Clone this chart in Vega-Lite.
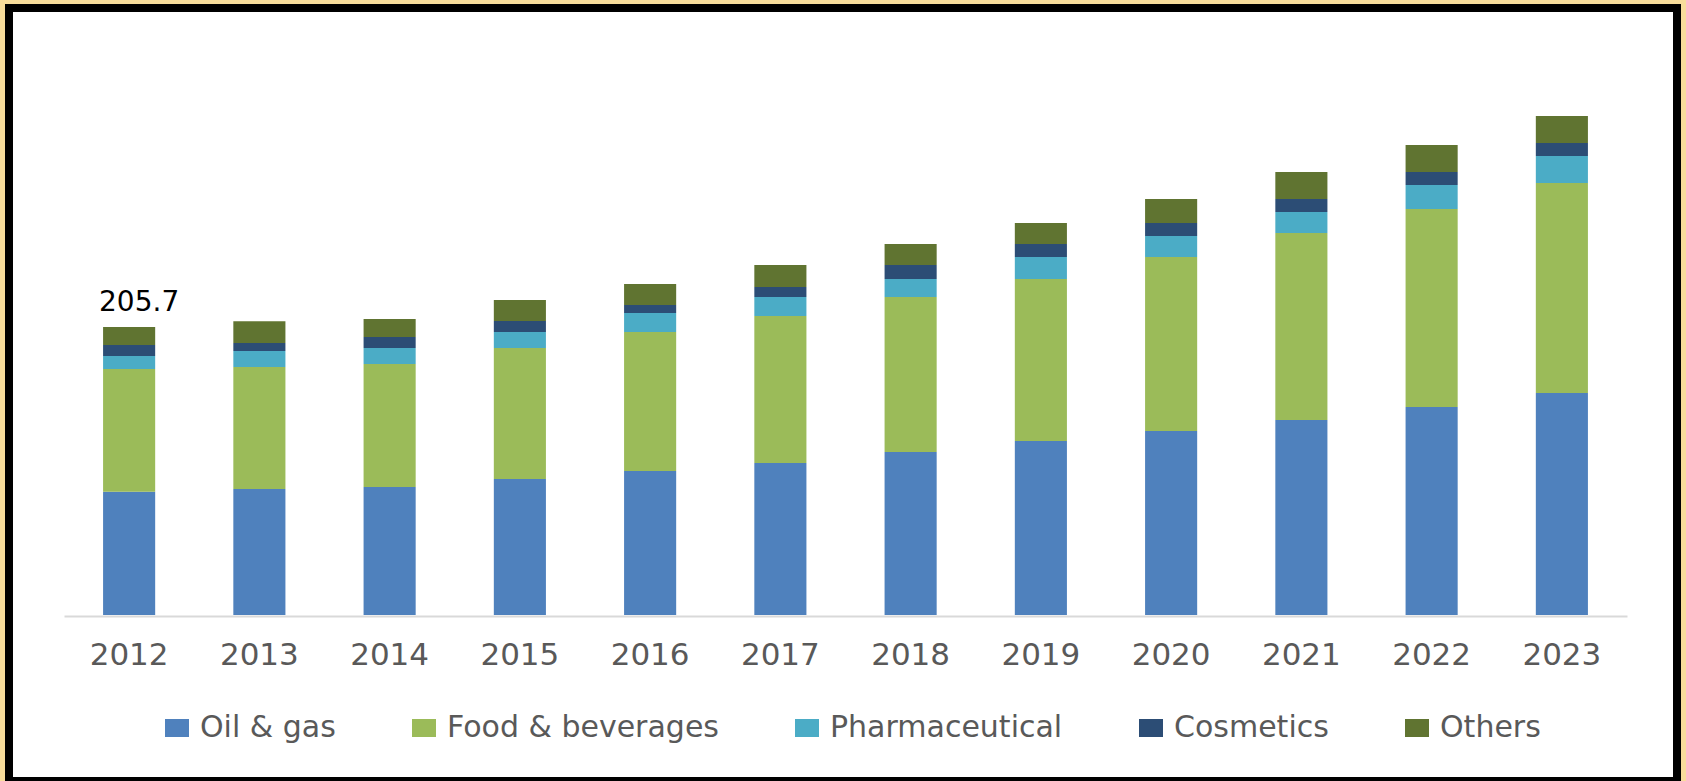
{
  "$schema": "https://vega.github.io/schema/vega-lite/v6.json",
  "width": 1668,
  "height": 773,
  "autosize": {"type": "none"},
  "padding": {"left": 9, "top": 8, "right": 9, "bottom": 0},
  "background": "#f8dd9b",
  "config": {
    "view": {"fill": "white", "stroke": "black", "strokeWidth": 8},
    "font": "DejaVu Sans"
  },
  "layer": [
    {
      "data": {
        "values": [
          {"year": "2012", "segment": "Oil & gas", "value": 88.1},
          {"year": "2012", "segment": "Food & beverages", "value": 87.6},
          {"year": "2012", "segment": "Pharmaceutical", "value": 9.3},
          {"year": "2012", "segment": "Cosmetics", "value": 7.9},
          {"year": "2012", "segment": "Others", "value": 12.8},
          {"year": "2013", "segment": "Oil & gas", "value": 90.0},
          {"year": "2013", "segment": "Food & beverages", "value": 87.1},
          {"year": "2013", "segment": "Pharmaceutical", "value": 11.4},
          {"year": "2013", "segment": "Cosmetics", "value": 5.7},
          {"year": "2013", "segment": "Others", "value": 15.7},
          {"year": "2014", "segment": "Oil & gas", "value": 91.4},
          {"year": "2014", "segment": "Food & beverages", "value": 87.9},
          {"year": "2014", "segment": "Pharmaceutical", "value": 11.4},
          {"year": "2014", "segment": "Cosmetics", "value": 7.9},
          {"year": "2014", "segment": "Others", "value": 12.9},
          {"year": "2015", "segment": "Oil & gas", "value": 97.1},
          {"year": "2015", "segment": "Food & beverages", "value": 93.6},
          {"year": "2015", "segment": "Pharmaceutical", "value": 11.4},
          {"year": "2015", "segment": "Cosmetics", "value": 7.9},
          {"year": "2015", "segment": "Others", "value": 15.0},
          {"year": "2016", "segment": "Oil & gas", "value": 102.9},
          {"year": "2016", "segment": "Food & beverages", "value": 99.3},
          {"year": "2016", "segment": "Pharmaceutical", "value": 13.6},
          {"year": "2016", "segment": "Cosmetics", "value": 5.7},
          {"year": "2016", "segment": "Others", "value": 15.0},
          {"year": "2017", "segment": "Oil & gas", "value": 108.6},
          {"year": "2017", "segment": "Food & beverages", "value": 105.0},
          {"year": "2017", "segment": "Pharmaceutical", "value": 13.6},
          {"year": "2017", "segment": "Cosmetics", "value": 7.1},
          {"year": "2017", "segment": "Others", "value": 15.7},
          {"year": "2018", "segment": "Oil & gas", "value": 116.4},
          {"year": "2018", "segment": "Food & beverages", "value": 110.7},
          {"year": "2018", "segment": "Pharmaceutical", "value": 12.9},
          {"year": "2018", "segment": "Cosmetics", "value": 10.0},
          {"year": "2018", "segment": "Others", "value": 15.0},
          {"year": "2019", "segment": "Oil & gas", "value": 124.3},
          {"year": "2019", "segment": "Food & beverages", "value": 115.7},
          {"year": "2019", "segment": "Pharmaceutical", "value": 15.7},
          {"year": "2019", "segment": "Cosmetics", "value": 9.3},
          {"year": "2019", "segment": "Others", "value": 15.0},
          {"year": "2020", "segment": "Oil & gas", "value": 131.4},
          {"year": "2020", "segment": "Food & beverages", "value": 124.3},
          {"year": "2020", "segment": "Pharmaceutical", "value": 15.0},
          {"year": "2020", "segment": "Cosmetics", "value": 9.3},
          {"year": "2020", "segment": "Others", "value": 17.1},
          {"year": "2021", "segment": "Oil & gas", "value": 139.3},
          {"year": "2021", "segment": "Food & beverages", "value": 133.6},
          {"year": "2021", "segment": "Pharmaceutical", "value": 15.0},
          {"year": "2021", "segment": "Cosmetics", "value": 9.3},
          {"year": "2021", "segment": "Others", "value": 19.3},
          {"year": "2022", "segment": "Oil & gas", "value": 148.6},
          {"year": "2022", "segment": "Food & beverages", "value": 141.4},
          {"year": "2022", "segment": "Pharmaceutical", "value": 17.1},
          {"year": "2022", "segment": "Cosmetics", "value": 9.3},
          {"year": "2022", "segment": "Others", "value": 19.3},
          {"year": "2023", "segment": "Oil & gas", "value": 158.6},
          {"year": "2023", "segment": "Food & beverages", "value": 150.0},
          {"year": "2023", "segment": "Pharmaceutical", "value": 19.3},
          {"year": "2023", "segment": "Cosmetics", "value": 9.3},
          {"year": "2023", "segment": "Others", "value": 19.3}
        ]
      },
      "transform": [
        {"window": [{"op": "row_number", "as": "stack_idx"}], "groupby": ["year"]}
      ],
      "mark": {"type": "bar"},
      "encoding": {
        "x": {
          "field": "year",
          "type": "ordinal",
          "scale": {"range": [55, 1618], "paddingInner": 0.6, "paddingOuter": 0.3},
          "axis": {
            "orient": "bottom",
            "offset": -165,
            "title": null,
            "ticks": false,
            "tickSize": 0,
            "domainColor": "#d9d9d9",
            "domainWidth": 2,
            "labelFont": "DejaVu Sans",
            "labelFontSize": 31,
            "labelColor": "#595959",
            "labelPadding": 24,
            "labelAngle": 0
          }
        },
        "y": {
          "field": "value",
          "type": "quantitative",
          "stack": "zero",
          "scale": {"domain": [0, 400], "range": [607, 47]},
          "axis": null
        },
        "order": {"field": "stack_idx", "type": "quantitative", "sort": "ascending"},
        "color": {
          "field": "segment",
          "type": "nominal",
          "sort": ["Oil & gas", "Food & beverages", "Pharmaceutical", "Cosmetics", "Others"],
          "scale": {
            "domain": ["Oil & gas", "Food & beverages", "Pharmaceutical", "Cosmetics", "Others"],
            "range": ["#4f81bd", "#9bbb59", "#4bacc6", "#2c4d75", "#607431"]
          },
          "legend": {
            "orient": "none",
            "legendX": 153,
            "legendY": 705,
            "direction": "horizontal",
            "title": null,
            "symbolType": "M-1,-0.75H1V0.75H-1Z",
            "symbolSize": 576,
            "symbolStrokeWidth": 0,
            "labelFont": "DejaVu Sans",
            "labelFontSize": 30,
            "labelColor": "#595959",
            "labelOffset": 8,
            "labelLimit": 0,
            "columnPadding": 73,
            "padding": 0
          }
        }
      }
    },
    {
      "data": {"values": [{"year": "2012", "total": 205.7}]},
      "mark": {"type": "text", "dy": -16, "dx": 10, "baseline": "alphabetic", "fontSize": 28, "color": "black", "font": "DejaVu Sans"},
      "encoding": {
        "x": {"field": "year", "type": "ordinal"},
        "y": {"field": "total", "type": "quantitative"},
        "text": {"field": "total", "type": "quantitative", "format": ".1f"}
      }
    }
  ]
}
